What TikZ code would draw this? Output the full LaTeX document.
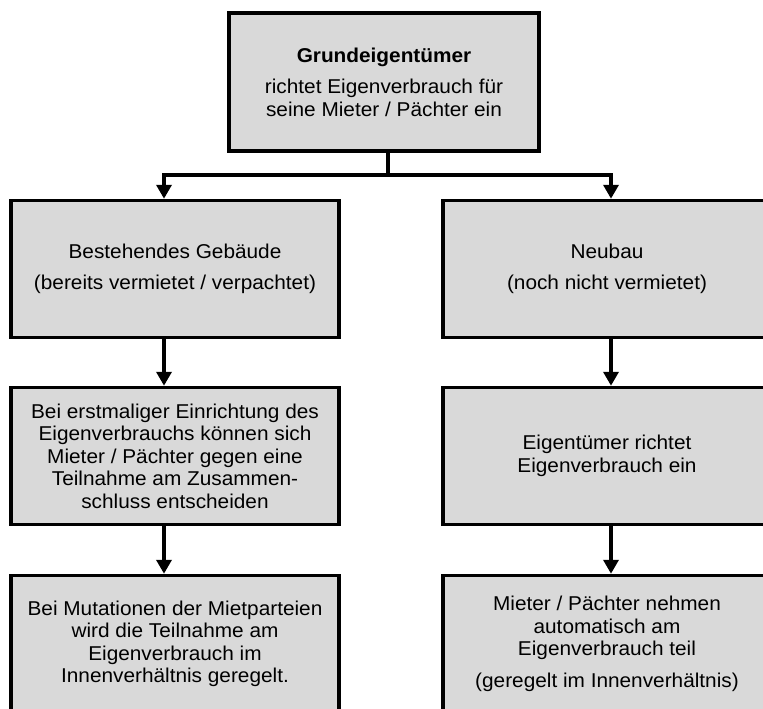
\documentclass[tikz,border=0pt]{standalone}
\usepackage{fontspec}
\setmainfont[FakeStretch=1.04]{Liberation Sans}
\usetikzlibrary{positioning, arrows.meta}
\tikzset{
block/.style={draw, line width=3.5pt, fill=gray!30, align=center,
  minimum width=328pt, minimum height=137pt, inner sep=0pt,
  font=\fontsize{20}{22.5}\selectfont},
conn/.style={line width=3.5pt},
arrow/.style={conn, -{Triangle[width=15pt,length=14pt]}},
}
\begin{document}
\begin{tikzpicture}[x=1pt, y=-1pt]
    \useasboundingbox (0,0) rectangle (763,709);

    %top
    \node[block, minimum width=310pt, minimum height=138pt] (owner) at (384,82)
      {\textbf{Grundeigentümer}\\[9pt] richtet Eigenverbrauch für\\ seine Mieter / Pächter ein};

    %left column
    \node[block] (old1) at (175,269) {Bestehendes Gebäude\\[8.5pt] (bereits vermietet / verpachtet)};
    \node[block] (old2) at (175,456) {Bei erstmaliger Einrichtung des\\ Eigenverbrauchs können sich\\
      Mieter / Pächter gegen eine\\ Teilnahme am Zusammen-\\ schluss entscheiden};
    \node[block] (old3) at (175,644) {Bei Mutationen der Mietparteien\\ wird die Teilnahme am\\
      Eigenverbrauch im\\ Innenverhältnis geregelt.};

    %right column
    \node[block] (new1) at (607,269) {Neubau\\[8.5pt] (noch nicht vermietet)};
    \node[block] (new2) at (607,456) {Eigentümer richtet\\ Eigenverbrauch ein};
    \node[block] (new3) at (607,644) {Mieter / Pächter nehmen\\ automatisch am\\
      Eigenverbrauch teil\\[9pt] (geregelt im Innenverhältnis)};

    %split
    \coordinate (split) at (388,175);
    \draw[conn] ([xshift=4pt]owner.south) -- (split);
    \draw[arrow] (split) -| ([xshift=-11pt]old1.north);
    \draw[arrow] (split) -| ([xshift=4pt]new1.north);

    % vertical arrows
    \draw[arrow] ([xshift=-11pt]old1.south) -- ([xshift=-11pt]old2.north);
    \draw[arrow] ([xshift=-11pt]old2.south) -- ([xshift=-11pt]old3.north);
    \draw[arrow] ([xshift=4pt]new1.south) -- ([xshift=4pt]new2.north);
    \draw[arrow] ([xshift=4pt]new2.south) -- ([xshift=4pt]new3.north);
\end{tikzpicture}
\end{document}
